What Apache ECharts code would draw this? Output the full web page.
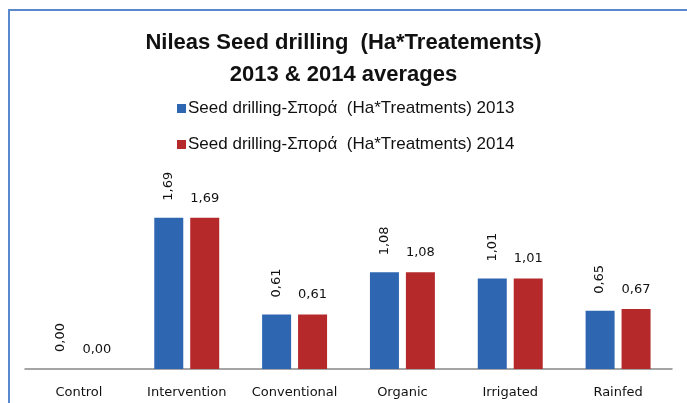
<!DOCTYPE html>
<html>
<head>
<meta charset="utf-8">
<script src="https://cdn.jsdelivr.net/npm/echarts@6/dist/echarts.min.js"></script>
<style>
  html, body { margin: 0; padding: 0; background: #fff; }
  #wrap { position: relative; width: 687px; height: 403px; overflow: hidden; }
  #frame { position: absolute; left: 8px; top: 9px; width: 700px; height: 420px;
           border-left: 2px solid #5a88cc; border-top: 2px solid #5a88cc; }
  #chart { position: absolute; left: 0; top: 0; width: 687px; height: 403px; }
</style>
</head>
<body>
<div id="wrap">
  <div id="frame"></div>
  <div id="chart"></div>
</div>
<script>
var categories = ['Control', 'Intervention', 'Conventional', 'Organic', 'Irrigated', 'Rainfed'];
var values2013 = [0.00, 1.69, 0.61, 1.08, 1.01, 0.65];
var values2014 = [0.00, 1.69, 0.61, 1.08, 1.01, 0.67];
var seriesNames = ['Seed drilling-Σπορά  (Ha*Treatments) 2013', 'Seed drilling-Σπορά  (Ha*Treatments) 2014'];

var dom = document.getElementById('chart');
var myChart = echarts.init(dom, null, { renderer: 'canvas' });

// comma as decimal separator
function fmt(p) {
    return p.value.toFixed(2).replace('.', ',');
}

var option = {
    animation: false,
    title: {
        text: 'Nileas Seed drilling  (Ha*Treatements)\n2013 & 2014 averages',
        left: 'center',
        top: 22,
        textStyle: {
            fontFamily: 'Liberation Sans, sans-serif',
            fontWeight: 'bold',
            fontSize: 22,
            lineHeight: 32,
            color: '#111'
        }
    },
    legend: {
        orient: 'vertical',
        left: 172,
        top: 95,
        itemGap: 19,
        itemWidth: 9,
        itemHeight: 9,
        icon: 'rect',
        textStyle: {
            fontFamily: 'Liberation Sans, sans-serif',
            fontSize: 17,
            color: '#111',
            padding: [0, 0, 0, -3]
        },
        data: seriesNames
    },
    grid: {
        left: 25,
        right: 15,
        top: 190,
        bottom: 34
    },
    xAxis: {
        type: 'category',
        data: categories,
        axisTick: { show: false },
        axisLine: { lineStyle: { color: '#888', width: 1.5 } },
        axisLabel: {
            interval: 0,
            margin: 17,
            fontFamily: 'DejaVu Sans, sans-serif',
            fontSize: 13,
            color: '#111'
        }
    },
    yAxis: {
        type: 'value',
        min: 0,
        max: 2,
        show: false
    },
    series: [
        {
            name: seriesNames[0],
            type: 'bar',
            data: values2013,
            barWidth: 29,
            barGap: '24%',
            itemStyle: { color: '#2e66b2' },
            label: {
                show: true,
                position: 'top',
                rotate: 90,
                align: 'left',
                verticalAlign: 'middle',
                distance: 17,
                formatter: fmt,
                fontFamily: 'DejaVu Sans, sans-serif',
                fontSize: 13,
                color: '#111'
            }
        },
        {
            name: seriesNames[1],
            type: 'bar',
            data: values2014,
            barWidth: 29,
            itemStyle: { color: '#b5292b' },
            label: {
                show: true,
                position: 'top',
                distance: 13,
                formatter: fmt,
                fontFamily: 'DejaVu Sans, sans-serif',
                fontSize: 13,
                color: '#111'
            }
        }
    ]
};

myChart.setOption(option);
</script>
</body>
</html>
